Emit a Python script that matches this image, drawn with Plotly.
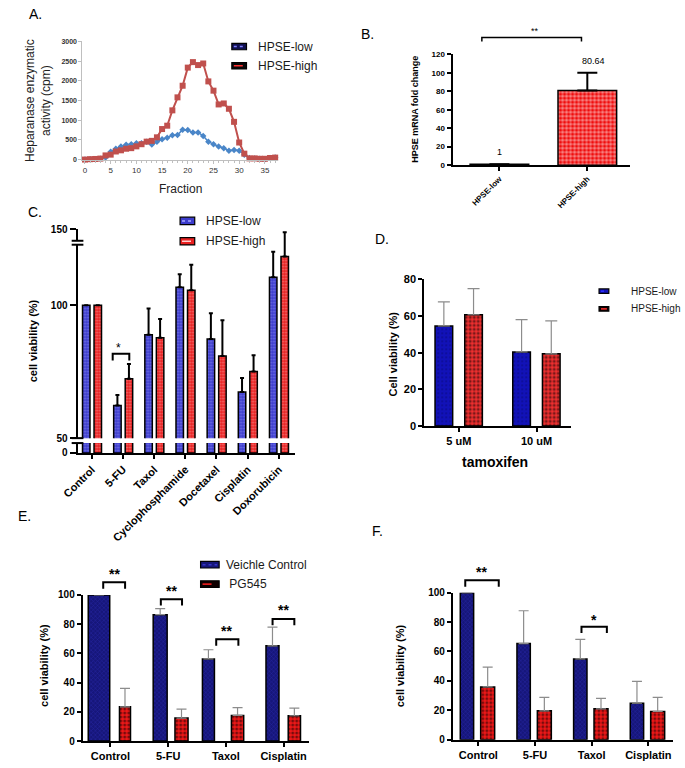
import plotly.graph_objects as go

W, H = 685, 768
def px(p):
    return p / W
def py(p):
    return 1 - p / H

FONT = "Liberation Sans, Arial, sans-serif"

# ---------------- Panel A data ----------------
fractions = list(range(38))
hpse_low_activity = [0, 5, 10, 20, 50, 200, 275, 330, 375, 390, 415, 415, 455, 380, 455, 515, 555, 620, 625, 760, 750, 685, 690, 600, 455, 390, 330, 290, 225, 240, 225, 125, 40, 30, 20, 10, 40, 50]
hpse_high_activity = [0, 10, 15, 25, 105, 125, 205, 235, 275, 290, 335, 390, 455, 475, 565, 775, 860, 1250, 1580, 1875, 2335, 2475, 2400, 2440, 1985, 1750, 1400, 1425, 1290, 958, 433, 150, 30, 30, 20, 20, 40, 50]

# ---------------- Panel B data ----------------
b_groups = ["HPSE-low", "HPSE-high"]
b_fold = [1, 80.64]
b_err = [0, 19.4]

# ---------------- Panel C data ----------------
c_drugs = ["Control", "5-FU", "Taxol", "Cyclophosphamide", "Docetaxel", "Cisplatin", "Doxorubicin"]
c_low = [100, 62.3, 88.9, 106.8, 87.3, 67.4, 110.5]
c_low_err = [0, 3.9, 9.9, 4.9, 9.7, 5.2, 9.6]
c_high = [100, 72.3, 87.8, 105.6, 80.9, 75.1, 118.3]
c_high_err = [0, 5.6, 7.0, 9.6, 13.5, 6.1, 9.2]

# ---------------- Panel D data ----------------
d_doses = ["5 uM", "10 uM"]
d_low = [54.6, 40.4]
d_low_err = [13.1, 17.6]
d_high = [60.7, 39.4]
d_high_err = [14.3, 18.0]

# ---------------- Panel E data ----------------
e_drugs = ["Control", "5-FU", "Taxol", "Cisplatin"]
e_vehicle = [100, 86.5, 56.2, 65.2]
e_vehicle_err = [0, 4.1, 6.3, 12.8]
e_pg545 = [23.4, 15.7, 17.5, 17.3]
e_pg545_err = [12.6, 6.1, 5.4, 5.2]

# ---------------- Panel F data ----------------
f_drugs = ["Control", "5-FU", "Taxol", "Cisplatin"]
f_vehicle = [100, 65.4, 54.9, 24.8]
f_vehicle_err = [0, 22.3, 13.4, 14.9]
f_pg545 = [35.9, 19.6, 21.0, 19.2]
f_pg545_err = [13.4, 9.2, 7.1, 9.6]

# colours
C_BLUE = "#3c3ccc"
C_RED = "#e82020"
NAVY = "#16167a"
RED = "#f01818"

fig = go.Figure()

# ---------- A ----------
fig.add_trace(go.Scatter(x=fractions, y=hpse_low_activity, mode="lines+markers", xaxis="x", yaxis="y",
                         name="HPSE-low", line=dict(color="#4a86c8", width=1.5), cliponaxis=False,
                         marker=dict(symbol="diamond", size=5, color="#4a86c8"), showlegend=False))
fig.add_trace(go.Scatter(x=fractions, y=hpse_high_activity, mode="lines+markers", xaxis="x", yaxis="y",
                         name="HPSE-high", line=dict(color="#c0504d", width=2), cliponaxis=False,
                         marker=dict(symbol="square", size=6, color="#c0504d"), showlegend=False))

# ---------- B ----------
fig.add_trace(go.Bar(x=b_groups, y=b_fold, xaxis="x2", yaxis="y2", width=0.667,
                     marker=dict(color=[NAVY, "#ee0000"], line=dict(color="black", width=1.5),
                                 pattern=dict(shape=["", "."], fgcolor="black", size=4, solidity=0.6)),
                     error_y=dict(type="data", array=b_err, arrayminus=[0, 0], symmetric=False,
                                  color="black", thickness=2, width=10),
                     showlegend=False))

# ---------- C (two y segments with an axis break) ----------
c_w = 0.24
for yax, main in (("y3", True), ("y4", False)):
    fig.add_trace(go.Bar(x=c_drugs, y=c_low, name="HPSE-low", xaxis="x3", yaxis=yax, width=c_w, offset=-0.30,
                         marker=dict(color=C_BLUE, line=dict(color="black", width=1.5),
                                     pattern=dict(shape=".", fgcolor="#a8a8ff", size=3, solidity=0.35)),
                         error_y=dict(type="data", array=c_low_err, arrayminus=[0]*7, symmetric=False,
                                      color="black", thickness=2, width=2, visible=main),
                         showlegend=False))
    fig.add_trace(go.Bar(x=c_drugs, y=c_high, name="HPSE-high", xaxis="x3", yaxis=yax, width=c_w, offset=0.07,
                         marker=dict(color=C_RED, line=dict(color="black", width=1.5),
                                     pattern=dict(shape=".", fgcolor="#ffc8c8", size=3, solidity=0.35)),
                         error_y=dict(type="data", array=c_high_err, arrayminus=[0]*7, symmetric=False,
                                      color="black", thickness=2, width=2, visible=main),
                         showlegend=False))

# ---------- D ----------
fig.add_trace(go.Bar(x=d_doses, y=d_low, name="HPSE-low", xaxis="x5", yaxis="y5", width=0.227, offset=-0.306,
                     marker=dict(color="#1212b8", line=dict(color="black", width=1.5),
                                 pattern=dict(shape=".", fgcolor="#08086a", size=4, solidity=0.2)),
                     error_y=dict(type="data", array=d_low_err, arrayminus=[0, 0], symmetric=False,
                                  color="#8c8c8c", thickness=1.2, width=6),
                     showlegend=False))
fig.add_trace(go.Bar(x=d_doses, y=d_high, name="HPSE-high", xaxis="x5", yaxis="y5", width=0.227, offset=0.076,
                     marker=dict(color="#f03030", line=dict(color="black", width=1.5),
                                 pattern=dict(shape=".", fgcolor="black", size=4, solidity=0.45)),
                     error_y=dict(type="data", array=d_high_err, arrayminus=[0, 0], symmetric=False,
                                  color="#8c8c8c", thickness=1.2, width=6),
                     showlegend=False))

# ---------- E ----------
e_blue_off = [-0.384, -0.259, -0.406, -0.305]
e_blue_w = [0.372, 0.242, 0.208, 0.225]
e_red_off = [0.157, 0.118, 0.096, 0.080]
e_red_w = [0.191, 0.227, 0.213, 0.213]
fig.add_trace(go.Bar(x=e_drugs, y=e_vehicle, name="Veichle Control", xaxis="x6", yaxis="y6",
                     width=e_blue_w, offset=e_blue_off,
                     marker=dict(color=NAVY, line=dict(color="black", width=1.5),
                                 pattern=dict(shape="x", fgcolor="#3434c8", size=3, solidity=0.3)),
                     error_y=dict(type="data", array=e_vehicle_err, arrayminus=[0]*4, symmetric=False,
                                  color="#8c8c8c", thickness=1.2, width=5),
                     showlegend=False))
fig.add_trace(go.Bar(x=e_drugs, y=e_pg545, name="PG545", xaxis="x6", yaxis="y6",
                     width=e_red_w, offset=e_red_off,
                     marker=dict(color=RED, line=dict(color="black", width=1.5),
                                 pattern=dict(shape=".", fgcolor="black", size=4, solidity=0.45)),
                     error_y=dict(type="data", array=e_pg545_err, arrayminus=[0]*4, symmetric=False,
                                  color="#8c8c8c", thickness=1.2, width=5),
                     showlegend=False))

# ---------- F ----------
fig.add_trace(go.Bar(x=f_drugs, y=f_vehicle, name="Veichle Control", xaxis="x7", yaxis="y7",
                     width=0.236, offset=-0.319,
                     marker=dict(color=NAVY, line=dict(color="black", width=1.5),
                                 pattern=dict(shape="x", fgcolor="#3434c8", size=3, solidity=0.3)),
                     error_y=dict(type="data", array=f_vehicle_err, arrayminus=[0]*4, symmetric=False,
                                  color="#8c8c8c", thickness=1.2, width=5),
                     showlegend=False))
fig.add_trace(go.Bar(x=f_drugs, y=f_pg545, name="PG545", xaxis="x7", yaxis="y7",
                     width=0.247, offset=0.041,
                     marker=dict(color=RED, line=dict(color="black", width=1.5),
                                 pattern=dict(shape=".", fgcolor="black", size=4, solidity=0.45)),
                     error_y=dict(type="data", array=f_pg545_err, arrayminus=[0]*4, symmetric=False,
                                  color="#8c8c8c", thickness=1.2, width=5),
                     showlegend=False))


def bar_x(domain, rng, anchor, size=11, angle=0):
    return dict(domain=domain, range=rng, anchor=anchor, showgrid=False, zeroline=False,
                showline=True, linecolor="black", linewidth=2, ticks="outside", ticklen=4,
                tickwidth=1.5, tickcolor="black", tickangle=angle,
                tickfont=dict(family=FONT, size=size, color="black", weight="bold"))

def bar_y(domain, rng, anchor, dtick, size=11, ticklen=4):
    return dict(domain=domain, range=rng, anchor=anchor, showgrid=False, zeroline=False,
                showline=True, linecolor="black", linewidth=2, ticks="outside", ticklen=ticklen,
                tickwidth=1.5, tickcolor="black", dtick=dtick,
                tickfont=dict(family=FONT, size=size, color="black", weight="bold"))

c_top = 50 + (439 - 226.7) / 2.7

fig.update_layout(
    width=W, height=H, margin=dict(l=0, r=0, t=0, b=0),
    paper_bgcolor="white", plot_bgcolor="white", barmode="group", showlegend=False,
    font=dict(family=FONT, color="black"),
    # A
    xaxis=dict(domain=[px(68), px(268)], range=[-0.5, 37.5], anchor="y", showgrid=False, zeroline=False,
               showline=True, linecolor="#bfbfbf", linewidth=1, ticks="outside", ticklen=3,
               tickcolor="#bfbfbf", dtick=5, tick0=0,
               minor=dict(dtick=1, ticks="outside", ticklen=2, tickcolor="#bfbfbf"),
               tickfont=dict(family=FONT, size=8, color="#333333")),
    yaxis=dict(domain=[py(156), py(36)], range=[0, 3000], anchor="x", showgrid=False, zeroline=False,
               showline=True, linecolor="#bfbfbf", linewidth=1, ticks="outside", ticklen=3,
               tickcolor="#bfbfbf", dtick=500,
               tickfont=dict(family=FONT, size=7, color="#333333", weight="bold")),
    # B
    xaxis2=bar_x([px(447), px(629)], [-0.533, 1.489], "y2", size=8, angle=-45),
    yaxis2=bar_y([py(161.7), py(49)], [0, 120], "x2", 20, size=8),
    # C
    xaxis3=bar_x([px(63), px(286)], [-0.46, 6.53], "y4", size=11, angle=-45),
    yaxis3=dict(bar_y([py(439), py(226.7)], [50, c_top], "x3", None, size=10, ticklen=6),
                tickvals=[50, 100, c_top], ticktext=["50", "100", "150"]),
    yaxis4=dict(bar_y([py(454), py(444)], [0, 10 / 2.7], "x3", None, size=10, ticklen=6),
                tickvals=[0], ticktext=["0"]),
    # D
    xaxis5=bar_x([px(418), px(568)], [-0.445, 1.44], "y5"),
    yaxis5=bar_y([py(426.7), py(277.7)], [0, 80], "x5", 20),
    # E
    xaxis6=bar_x([px(68.3), px(300)], [-0.48, 3.44], "y6"),
    yaxis6=bar_y([py(746.7), py(598.3)], [0, 100], "x6", 20, size=10),
    # F
    xaxis7=bar_x([px(447.3), px(673)], [-0.45, 3.44], "y7"),
    yaxis7=bar_y([py(745.3), py(596)], [0, 100], "x7", 20, size=10),
)

ann = []
def text(x, y, t, size=12, angle=0, xanchor="center", yanchor="middle", color="black"):
    ann.append(dict(x=px(x), y=py(y), xref="paper", yref="paper", text=t, showarrow=False,
                    font=dict(family=FONT, size=size, color=color), textangle=angle,
                    xanchor=xanchor, yanchor=yanchor))

# panel letters
text(11, 8, "A.", 14, xanchor="left")
text(351, 28, "B.", 14, xanchor="left")
text(10, 209, "C.", 14, xanchor="left")
text(366, 237, "D.", 14, xanchor="left")
text(0, 518, "E.", 14, xanchor="left")
text(362, 533, "F.", 14, xanchor="left")

# axis titles
text(22, 96, "Heparanase enzymatic<br>activity (cpm)", 12, angle=-90, color="#222222")
text(168, 186, "Fraction", 12, color="#222222")
text(409, 105, "<b>HPSE mRNA fold change</b>", 9, angle=-90)
text(17, 340, "<b>cell viability (%)</b>", 11, angle=-90)
text(387, 353, "<b>Cell viability (%)</b>", 11, angle=-90)
text(490, 463, "<b>tamoxifen</b>", 14)
text(28, 670, "<b>cell viability (%)</b>", 11, angle=-90)
text(393, 670, "<b>cell viability (%)</b>", 11, angle=-90)

# B value labels
ann.append(dict(x=1, y=100, xref="x2", yref="y2", text="80.64", showarrow=False, yanchor="bottom",
                xshift=6, yshift=5, font=dict(family=FONT, size=9)))
ann.append(dict(x=0, y=1, xref="x2", yref="y2", text="1", showarrow=False, yanchor="bottom",
                yshift=5, font=dict(family=FONT, size=9)))
text(531, 25, "**", 9)

# significance asterisks
text(105, 347, "*", 12)
text(100.5, 577, "<b>**</b>", 14)
text(159, 594, "<b>**</b>", 14)
text(216, 635, "<b>**</b>", 14)
text(274, 614, "<b>**</b>", 14)
text(477, 575, "<b>**</b>", 14)
text(592, 624, "<b>*</b>", 14)

shapes = []
def bracket(x1, x2, ytop, ybot, width=2):
    shapes.append(dict(type="path", xref="paper", yref="paper",
                       path=f"M {px(x1)},{py(ybot)} L {px(x1)},{py(ytop)} L {px(x2)},{py(ytop)} L {px(x2)},{py(ybot)}",
                       line=dict(color="black", width=width)))

bracket(477, 579, 32, 36, 1.5)
bracket(99, 116, 353.3, 360, 2)
bracket(89.3, 111.7, 585.3, 592, 2)
bracket(148.3, 170, 602.7, 609, 2)
bracket(205, 227.7, 643.3, 650, 2)
bracket(262.7, 285, 622.7, 629, 2)
bracket(460, 494.3, 583.3, 590, 2)
bracket(579, 605, 630.7, 637, 2)

def rect(x0, y0, x1, y1, fill, lw=1, lc="black"):
    shapes.append(dict(type="rect", xref="paper", yref="paper", x0=px(x0), x1=px(x1), y0=py(y1), y1=py(y0),
                       fillcolor=fill, line=dict(color=lc, width=lw)))
def seg(x0, y0, x1, y1, color="black", w=2, dash="solid"):
    shapes.append(dict(type="line", xref="paper", yref="paper", x0=px(x0), x1=px(x1), y0=py(y0), y1=py(y1),
                       line=dict(color=color, width=w, dash=dash)))

# legends (patch + label)
def legend_item(x0, x1, yc, hgt, fill, inner, dash, label, tx, size):
    rect(x0, yc - hgt / 2, x1, yc + hgt / 2, fill, 1.2)
    seg(x0 + 2, yc, x1 - 2, yc, inner, 1.5, dash)
    text(tx, yc, label, size, xanchor="left", color="#1a1a1a")

legend_item(221, 236, 41.2, 6.5, "#101050", "#7f7fff", "dot", "HPSE-low", 246, 12)
legend_item(221, 236, 60.7, 6.5, "#080808", "#ff3030", "dash", "HPSE-high", 246, 12)
legend_item(168, 183, 218.3, 7.5, C_BLUE, "#a8a8ff", "dot", "HPSE-low", 192, 12)
legend_item(168, 183, 239, 7.5, C_RED, "#ffd0d0", "dash", "HPSE-high", 192, 12)
legend_item(597, 607, 289.7, 4.5, "#1212b8", "#3030ff", "dot", "HPSE-low", 627.7, 10)
legend_item(597, 607, 307.7, 4.5, "#100000", "#ff3030", "dash", "HPSE-high", 627.7, 10)
legend_item(189, 208, 567.5, 6.8, NAVY, "#3434c8", "dot", "Veichle Control", 213.3, 12)
legend_item(189, 208, 587.3, 6.8, "#100000", "#ff2020", "dash", "\u00a0PG545", 213.3, 12)

# C axis breaks
seg(57, 439, 69, 439, "black", 2)
seg(57, 444, 69, 444, "black", 2)
rect(59, 238.5, 67, 242.5, "white", 0, "white")
seg(57, 238.5, 69, 238.5, "black", 2)
seg(57, 242.5, 69, 242.5, "black", 2)

fig.update_layout(annotations=ann, shapes=shapes)
# remove the default page margin so the 685x768 figure fills the window exactly
fig.write_html("out.html", config={"displayModeBar": False},
               post_script="document.body.style.margin='0px';document.body.style.overflow='hidden';")
